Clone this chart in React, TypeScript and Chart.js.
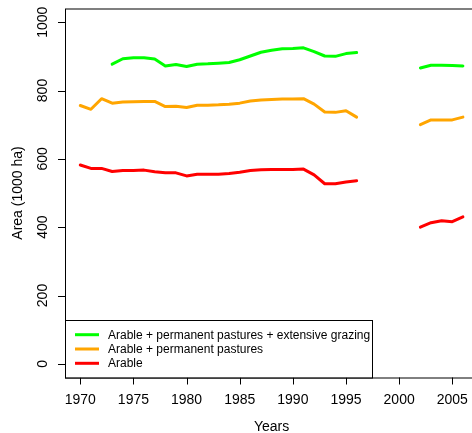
import React, { useEffect, useRef } from "react";
import { Chart, registerables } from "chart.js";

Chart.register(...registerables);

const years = [
  1970, 1971, 1972, 1973, 1974, 1975, 1976, 1977, 1978, 1979,
  1980, 1981, 1982, 1983, 1984, 1985, 1986, 1987, 1988, 1989,
  1990, 1991, 1992, 1993, 1994, 1995, 1996, 1997, 1998, 1999,
  2000, 2001, 2002, 2003, 2004, 2005, 2006,
];

const extensive = [
  null, null, null, 877, 893, 896, 896, 892, 872, 876,
  870, 877, 878, 880, 882, 890, 901, 912, 918, 922,
  923, 925, 914, 901, 900, 908, 911, null, null, null,
  null, null, 866, 874, 874, 873, 872,
];

const pastures = [
  756, 745, 776, 763, 766, 767, 768, 768, 753, 754,
  750, 757, 757, 758, 760, 763, 769, 772, 774, 775,
  775, 776, 760, 737, 736, 741, 722, null, null, null,
  null, null, 700, 714, 714, 714, 722,
];

const arable = [
  582, 572, 572, 563, 566, 566, 567, 562, 559, 559,
  550, 555, 555, 555, 557, 561, 566, 568, 569, 569,
  569, 570, 553, 527, 527, 532, 536, null, null, null,
  null, null, 400, 413, 419, 416, 430,
];

const seriesLabels = [
  "Arable + permanent pastures + extensive grazing",
  "Arable + permanent pastures",
  "Arable",
];
const seriesColors = ["#00FF00", "#FFA500", "#FF0000"];
const seriesValues = [extensive, pastures, arable];

const xTicks = [1970, 1975, 1980, 1985, 1990, 1995, 2000, 2005];
const yTicks = [0, 200, 400, 600, 800, 1000];
const xTitle = "Years";
const yTitle = "Area (1000 ha)";

const FONT = "'Liberation Sans', Arial, Helvetica, sans-serif";
const CANVAS_W = 490;
const CANVAS_H = 433;

const rAxesPlugin = {
  id: "rAxes",
  afterDraw(chart: any) {
    const ctx = chart.ctx;
    const xs = chart.scales.x;
    const ys = chart.scales.y;
    const a = chart.chartArea;
    ctx.save();
    ctx.strokeStyle = "#000";
    ctx.fillStyle = "#000";
    ctx.lineWidth = 1;
    // box
    ctx.strokeRect(a.left + 0.5, a.top + 0.5, a.right - a.left, a.bottom - a.top);
    // y ticks
    ctx.font = `14px ${FONT}`;
    for (const v of yTicks) {
      const py = Math.round(ys.getPixelForValue(v)) + 0.5;
      ctx.beginPath();
      ctx.moveTo(a.left - 7, py);
      ctx.lineTo(a.left, py);
      ctx.stroke();
      ctx.save();
      ctx.translate(a.left - 18.5, ys.getPixelForValue(v));
      ctx.rotate(-Math.PI / 2);
      ctx.textAlign = "center";
      ctx.textBaseline = "alphabetic";
      ctx.fillText(String(v), 0, 0);
      ctx.restore();
    }
    // x ticks
    for (const v of xTicks) {
      const px = Math.round(xs.getPixelForValue(v)) + 0.5;
      ctx.beginPath();
      ctx.moveTo(px, a.bottom);
      ctx.lineTo(px, a.bottom + 7);
      ctx.stroke();
      ctx.textAlign = "center";
      ctx.textBaseline = "alphabetic";
      ctx.fillText(String(v), xs.getPixelForValue(v), 403.5);
    }
    // titles
    ctx.textAlign = "center";
    ctx.fillText(xTitle, (a.left + a.right) / 2, 431);
    ctx.save();
    ctx.translate(22, (a.top + a.bottom) / 2);
    ctx.rotate(-Math.PI / 2);
    ctx.fillText(yTitle, 0, 0);
    ctx.restore();

    // legend (bottom-left)
    const lx = a.left;
    const lRight = 372;
    const lTop = 320;
    const lBottom = a.bottom;
    ctx.fillStyle = "#fff";
    ctx.fillRect(lx, lTop, lRight - lx, lBottom - lTop);
    ctx.strokeStyle = "#000";
    ctx.lineWidth = 1;
    ctx.strokeRect(lx + 0.5, lTop + 0.5, lRight - lx, lBottom - lTop);
    ctx.font = `12px ${FONT}`;
    ctx.textAlign = "left";
    ctx.textBaseline = "middle";
    seriesLabels.forEach((lab, i) => {
      const ry = 334.7 + i * 14.3;
      ctx.strokeStyle = seriesColors[i];
      ctx.lineWidth = 3;
      ctx.beginPath();
      ctx.moveTo(75, ry);
      ctx.lineTo(99, ry);
      ctx.stroke();
      ctx.fillStyle = "#000";
      ctx.fillText(lab, 108, ry + 0.5);
    });
    ctx.restore();
  },
};

export default function App() {
  const ref = useRef<HTMLCanvasElement | null>(null);
  useEffect(() => {
    if (!ref.current) return;
    const chart = new Chart(ref.current, {
      type: "line",
      data: {
        datasets: seriesValues.map((vals, i) => ({
          label: seriesLabels[i],
          data: years.map((yr, j) => ({ x: yr, y: vals[j] })),
          borderColor: seriesColors[i],
          backgroundColor: seriesColors[i],
          borderWidth: 3,
          borderCapStyle: "round",
          borderJoinStyle: "round",
          pointRadius: 0,
          spanGaps: false,
          tension: 0,
          fill: false,
        })),
      },
      options: {
        animation: false,
        responsive: false,
        maintainAspectRatio: false,
        devicePixelRatio: 1,
        layout: {
          padding: { left: 65, top: 8.5, right: CANVAS_W - 478.2, bottom: CANVAS_H - 377.5 },
        },
        plugins: {
          legend: { display: false },
          tooltip: { enabled: false },
        },
        scales: {
          x: { type: "linear", min: 1968.56, max: 2007.44, display: false },
          y: { type: "linear", min: -40, max: 1040, display: false },
        },
      },
      plugins: [rAxesPlugin],
    } as any);
    return () => chart.destroy();
  }, []);
  return (
    <div
      style={{
        position: "fixed",
        left: 0,
        top: 0,
        width: 472,
        height: 433,
        overflow: "hidden",
        background: "#fff",
      }}
    >
      <canvas
        ref={ref}
        width={CANVAS_W}
        height={CANVAS_H}
        style={{ width: CANVAS_W, height: CANVAS_H, display: "block" }}
      />
    </div>
  );
}
